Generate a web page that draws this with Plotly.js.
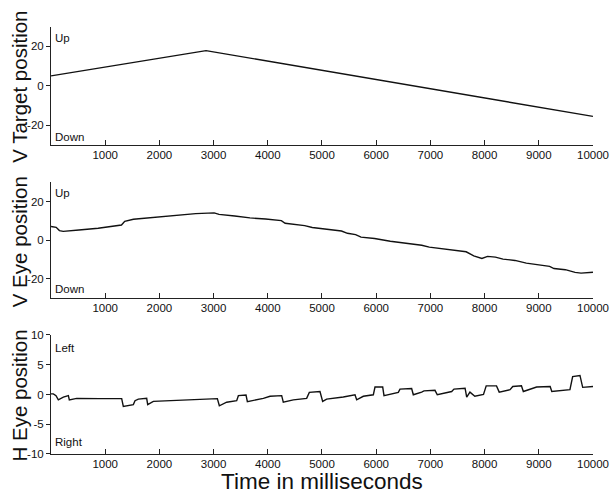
<!DOCTYPE html>
<html>
<head>
<meta charset="utf-8">
<script src="https://cdn.plot.ly/plotly-3.0.1.min.js"></script>
<style>html,body{margin:0;padding:0;background:#fff;}#chart{width:611px;height:494px;}</style>
</head>
<body>
<div id="chart"></div>
<script>
// ---- data ----
const targetTime = [0, 2860, 10000];
const targetV = [5, 17.8, -15.5];

const eyeVTime = [0, 95, 155, 225, 515, 870, 1300, 1360, 1520, 1950, 2310, 2670, 3010, 3100, 3390, 3670, 3960, 4250, 4320, 4680, 4820, 5110, 5360, 5470, 5620, 5720, 5970, 6260, 6550, 6840, 6980, 7200, 7480, 7660, 7800, 7950, 8055, 8200, 8340, 8560, 8770, 8990, 9200, 9280, 9490, 9670, 9780, 10000];
const eyeV = [7.1, 6.7, 5.0, 4.6, 5.3, 6.2, 7.9, 9.8, 10.9, 11.9, 12.9, 13.8, 14.2, 13.4, 12.6, 11.6, 11.0, 10.2, 8.8, 7.6, 6.6, 5.5, 4.8, 3.6, 2.9, 1.6, 0.9, -0.5, -1.6, -2.6, -3.6, -4.3, -5.3, -6.0, -8.1, -9.5, -8.4, -8.8, -9.8, -10.5, -11.9, -12.8, -13.6, -14.7, -15.3, -16.7, -17.1, -16.6];

const eyeHTime = [0, 43, 92, 135, 227, 290, 320, 338, 474, 904, 1304, 1334, 1519, 1550, 1611, 1765, 1784, 1888, 2257, 2749, 3069, 3106, 3241, 3426, 3457, 3598, 3623, 3918, 4041, 4256, 4286, 4471, 4717, 4766, 4963, 5012, 5086, 5393, 5609, 5640, 5762, 5947, 5978, 6120, 6144, 6408, 6439, 6654, 6685, 6839, 6882, 7085, 7127, 7393, 7435, 7640, 7670, 7730, 7820, 7980, 8030, 8220, 8270, 8470, 8520, 8680, 8715, 8960, 9210, 9240, 9575, 9625, 9760, 9810, 10000];
const eyeH = [0.1, 0.1, -0.2, -0.9, -0.45, -0.2, -0.2, -0.9, -0.65, -0.7, -0.7, -2.0, -1.7, -1.05, -0.77, -0.65, -1.7, -1.15, -1.0, -0.85, -0.7, -1.9, -1.3, -1.05, -0.2, -0.1, -1.2, -0.65, -0.3, -0.2, -1.3, -0.9, -0.65, 0.35, 0.5, -1.15, -0.77, -0.43, -0.05, -0.9, -0.3, -0.05, 1.25, 1.25, -0.2, 0.35, 0.9, 1.0, -0.05, 0.4, 0.6, 0.7, -0.05, 0.5, 0.9, 1.05, -0.45, 0.4, -0.3, 0.0, 1.45, 1.45, 0.4, 0.8, 1.35, 1.45, 0.5, 1.25, 1.35, 0.5, 0.8, 3.0, 3.2, 1.2, 1.35];

const timeTicks = [1000, 2000, 3000, 4000, 5000, 6000, 7000, 8000, 9000, 10000];
const timeTickText = ["1000", "2000", "3000", "4000", "5000", "6000", "7000", "8000", "9000", "10000"];
const vTicks = [-20, 0, 20];
const vTickText = ["-20", "0", "20"];
const hTicks = [-10, -5, 0, 5, 10];
const hTickText = ["-10", "-5", "0", "5", "10"];

const panelTitles = ["V Target position", "V Eye position", "H Eye position"];
const xTitle = "Time in milliseconds";
const dirLabels = [["Up", "Down"], ["Up", "Down"], ["Left", "Right"]];

// ---- styling ----
const FONT = "Liberation Sans, Arial, Helvetica, sans-serif";
const lineStyle = {color: "#111", width: 1.4};
const xDomain = [0.0835, 0.9705];

function xAxis(anchor) {
  return {
    domain: xDomain, anchor: anchor, range: [0, 10000],
    showline: true, linecolor: "#222", linewidth: 1,
    ticks: "inside", ticklen: 5, tickwidth: 1, tickcolor: "#222",
    tickvals: timeTicks, ticktext: timeTickText, ticklabelstandoff: -1,
    tickfont: {family: FONT, size: 11.5, color: "#111"},
    showgrid: false, zeroline: false, fixedrange: true
  };
}
function yAxis(anchor, domain, range, tv, tt) {
  return {
    domain: domain, anchor: anchor, range: range,
    showline: true, linecolor: "#222", linewidth: 1,
    ticks: "outside", ticklen: 4, tickwidth: 1, tickcolor: "#222",
    tickvals: tv, ticktext: tt,
    tickfont: {family: FONT, size: 11.5, color: "#111"},
    showgrid: false, zeroline: false, fixedrange: true
  };
}

const traces = [
  {x: targetTime, y: targetV, xaxis: "x", yaxis: "y", mode: "lines", line: lineStyle, hoverinfo: "skip"},
  {x: eyeVTime, y: eyeV, xaxis: "x2", yaxis: "y2", mode: "lines", line: lineStyle, hoverinfo: "skip"},
  {x: eyeHTime, y: eyeH, xaxis: "x3", yaxis: "y3", mode: "lines", line: lineStyle, hoverinfo: "skip"}
];

const annFont = {family: FONT, size: 11.5, color: "#111"};
const titleFont = {family: FONT, size: 20.5, color: "#111"};
const annPos = [[0.905, 0.07], [0.905, 0.078], [0.89, 0.10]];
const yrefs = ["y", "y2", "y3"];
const annotations = [];
for (let i = 0; i < 3; i++) {
  const yr = yrefs[i] + " domain";
  const xr = (i === 0 ? "x" : "x" + (i + 1)) + " domain";
  annotations.push({text: dirLabels[i][0], xref: xr, yref: yr, x: 0.004, y: annPos[i][0], xanchor: "left", yanchor: "middle", showarrow: false, font: annFont});
  annotations.push({text: dirLabels[i][1], xref: xr, yref: yr, x: 0.004, y: annPos[i][1], xanchor: "left", yanchor: "middle", showarrow: false, font: annFont});
  // y axis title of the panel
  annotations.push({text: panelTitles[i], xref: "paper", yref: yr, x: 0.0325, y: 0.49, xanchor: "center", yanchor: "middle", textangle: -90, showarrow: false, font: titleFont});
}
// x axis title (shared, under the bottom panel)
annotations.push({text: xTitle, xref: "x3 domain", yref: "paper", x: 0.5, y: 0, xanchor: "center", yanchor: "bottom", yshift: -2, showarrow: false, font: {family: FONT, size: 22.5, color: "#111"}});

const layout = {
  width: 611, height: 494,
  margin: {l: 0, r: 0, t: 0, b: 0},
  paper_bgcolor: "#fff", plot_bgcolor: "#fff",
  showlegend: false,
  font: {family: FONT, color: "#111"},
  xaxis: xAxis("y"),
  xaxis2: xAxis("y2"),
  xaxis3: xAxis("y3"),
  yaxis: yAxis("x", [0.7065, 0.9462], [-30, 30], vTicks, vTickText),
  yaxis2: yAxis("x2", [0.3968, 0.6306], [-30, 30], vTicks, vTickText),
  yaxis3: yAxis("x3", [0.0810, 0.3219], [-10, 10], hTicks, hTickText),
  annotations: annotations
};

Plotly.newPlot("chart", traces, layout, {displayModeBar: false, staticPlot: true});
</script>
</body>
</html>
